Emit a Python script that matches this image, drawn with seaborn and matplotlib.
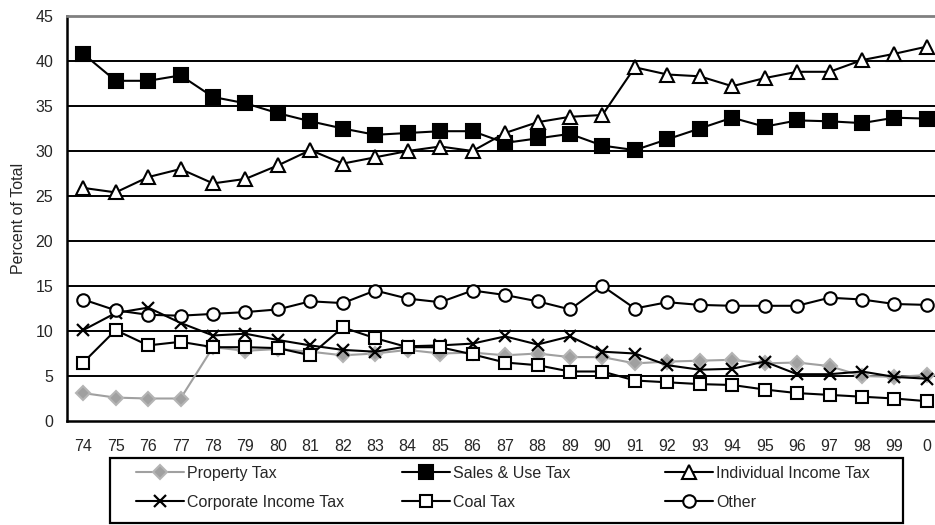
import matplotlib
matplotlib.use("Agg")
import matplotlib.pyplot as plt
from matplotlib.patches import Rectangle
from matplotlib.ticker import FixedLocator
import seaborn as sns
import pandas as pd

# Fiscal years (two-digit) and each revenue source's share of total, in percent
years = ["74", "75", "76", "77", "78", "79", "80", "81", "82", "83", "84", "85", "86",
         "87", "88", "89", "90", "91", "92", "93", "94", "95", "96", "97", "98", "99", "0"]

property_tax = [3.1, 2.6, 2.5, 2.5, 8.2, 7.8, 8.0, 7.7, 7.3, 7.5, 7.9, 7.5, 7.6, 7.3,
                7.5, 7.1, 7.1, 6.4, 6.6, 6.7, 6.8, 6.4, 6.5, 6.1, 5.0, 4.9, 5.1]
sales_use_tax = [40.8, 37.8, 37.8, 38.4, 36.0, 35.3, 34.2, 33.3, 32.5, 31.8, 32.0, 32.2,
                 32.2, 30.9, 31.4, 31.9, 30.6, 30.1, 31.3, 32.5, 33.7, 32.7, 33.4, 33.3,
                 33.1, 33.7, 33.6]
individual_income_tax = [25.9, 25.4, 27.1, 28.0, 26.4, 26.9, 28.4, 30.1, 28.6, 29.3, 30.0,
                         30.5, 30.0, 32.0, 33.2, 33.8, 34.0, 39.3, 38.5, 38.3, 37.2, 38.1,
                         38.8, 38.8, 40.1, 40.8, 41.6]
corporate_income_tax = [10.1, 12.0, 12.6, 10.9, 9.5, 9.7, 9.0, 8.4, 7.9, 7.7, 8.3, 8.4, 8.6,
                        9.4, 8.5, 9.4, 7.7, 7.5, 6.2, 5.7, 5.8, 6.6, 5.2, 5.2, 5.5, 4.9, 4.7]
coal_tax = [6.5, 10.1, 8.4, 8.8, 8.2, 8.2, 8.1, 7.3, 10.4, 9.2, 8.2, 8.2, 7.4, 6.5, 6.2,
            5.5, 5.5, 4.5, 4.3, 4.1, 4.0, 3.5, 3.1, 2.9, 2.7, 2.5, 2.2]
other = [13.5, 12.3, 11.8, 11.7, 11.9, 12.1, 12.4, 13.3, 13.1, 14.5, 13.6, 13.2, 14.5, 14.0,
         13.3, 12.4, 15.0, 12.5, 13.2, 12.9, 12.8, 12.8, 12.8, 13.7, 13.5, 13.0, 12.9]

y_ticks = [0, 5, 10, 15, 20, 25, 30, 35, 40, 45]

sns.set_style("white")
plt.rcParams["font.family"] = ["Liberation Sans", "DejaVu Sans"]

W, H = 935, 525
GRAY = "#a0a0a0"
series = [
    ("Property Tax", property_tax, dict(marker="D", color=GRAY, markerfacecolor=GRAY,
                                        markeredgecolor="#b4b4b4", markersize=7)),
    ("Sales & Use Tax", sales_use_tax, dict(marker="s", color="black", markerfacecolor="black",
                                            markeredgecolor="black", markersize=9.5)),
    ("Individual Income Tax", individual_income_tax, dict(marker="^", color="black",
                                                          markerfacecolor="white",
                                                          markeredgecolor="black", markersize=10)),
    ("Corporate Income Tax", corporate_income_tax, dict(marker="x", color="black",
                                                        markeredgecolor="black", markersize=9,
                                                        markeredgewidth=1.6)),
    ("Coal Tax", coal_tax, dict(marker="s", color="black", markerfacecolor="white",
                                markeredgecolor="black", markersize=8.5)),
    ("Other", other, dict(marker="o", color="black", markerfacecolor="white",
                          markeredgecolor="black", markersize=9)),
]

fig = plt.figure(figsize=(W / 100, H / 100), dpi=100)
ax = fig.add_axes([67 / W, 104 / H, 1 - 67 / W, 405 / H])

positions = list(range(len(years)))
for name, values, style in series:
    mew = style.pop("markeredgewidth", 1.5)
    df = pd.DataFrame({"pos": positions, "value": values})
    sns.lineplot(data=df, x="pos", y="value", ax=ax, label=name, linewidth=1.5,
                 markeredgewidth=mew, clip_on=False, zorder=3, **style)

ax.set_xlim(-0.5, 26.25)
ax.set_ylim(0, 45)

# horizontal rules at each 5 %
for v in y_ticks[1:-1]:
    ax.axhline(v, color="black", linewidth=1.4, zorder=1)

ax.set_yticks(y_ticks)
ax.set_xticks(positions)
ax.set_xticklabels(years)
ax.xaxis.set_minor_locator(FixedLocator([p - 0.5 for p in positions]))
ax.tick_params(axis="x", which="major", length=0, pad=13, labelsize=11.5)
ax.tick_params(axis="x", which="minor", length=6, width=1.5, color="black", direction="out")
ax.tick_params(axis="y", length=6, width=1.5, color="black", direction="out", pad=4,
               labelsize=11.5)

ax.set_xlabel("")
ax.set_ylabel("Percent of Total", fontsize=11.5, labelpad=7)

for side in ("left", "bottom"):
    ax.spines[side].set_color("black")
    ax.spines[side].set_linewidth(1.8)
ax.spines["top"].set_color("#808080")
ax.spines["top"].set_linewidth(2.0)
ax.spines["right"].set_visible(False)

# legend: three equal-width columns of two entries inside one black box
ax.get_legend().remove()
handles, labels = ax.get_legend_handles_labels()
columns = [(0, 3), (1, 4), (2, 5)]
col_x = [136, 402, 665]
for x, idx in zip(col_x, columns):
    fig.legend([handles[i] for i in idx], [labels[i] for i in idx],
               loc="upper left", bbox_to_anchor=(x / W, 1 - 466 / H), ncol=1,
               fontsize=11.5, frameon=False, borderpad=0, borderaxespad=0,
               handlelength=3.0, handletextpad=0.2, labelspacing=0.85)
fig.patches.append(Rectangle((110 / W, 1 - 523 / H), (903 - 110) / W, 65 / H,
                             transform=fig.transFigure, fill=False, edgecolor="black",
                             linewidth=1.6))

fig.savefig("out.png", dpi=100)
